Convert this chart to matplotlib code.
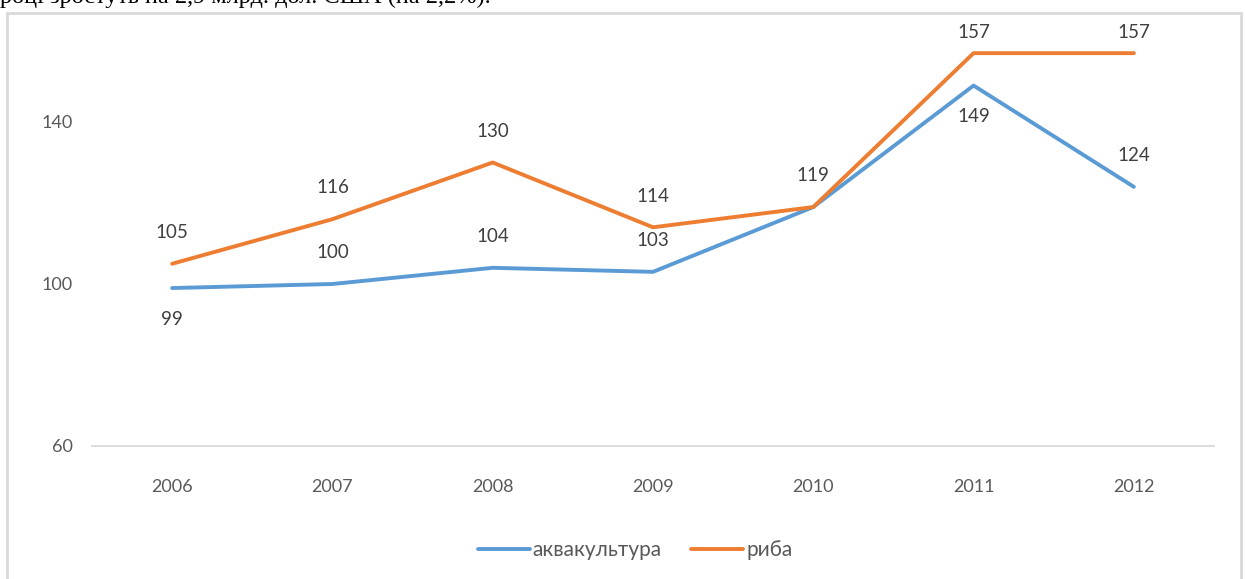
import matplotlib

matplotlib.use("agg")
import matplotlib.pyplot as plt
from matplotlib.patches import Rectangle

years = ["2006", "2007", "2008", "2009", "2010", "2011", "2012"]
aqua = [99, 100, 104, 103, 119, 149, 124]
fish = [105, 116, 130, 114, 119, 157, 157]
# where the aquaculture labels sit: -1 below the point, 1 above
aqua_side = [-1, 1, 1, 1, 1, -1, 1]

BLUE = "#5B9BD5"
ORANGE = "#ED7D31"

plt.rcParams["font.family"] = ["Lato", "DejaVu Sans"]

fig = plt.figure(figsize=(12.45, 5.79), dpi=100)
ax = fig.add_axes([92 / 1245, 1 - 446 / 579, (1214 - 92) / 1245, (446 - 41) / 579])

x = list(range(len(years)))
ax.plot(x, aqua, color=BLUE, lw=2.8, label="аквакультура", solid_capstyle="round")
ax.plot(x, fish, color=ORANGE, lw=2.8, label="риба", solid_capstyle="round")

for i in x:
    off = 15 if fish[i] > 150 else 22.5
    ax.annotate(str(fish[i]), (i, fish[i]), xytext=(0, off), textcoords="offset points",
                ha="center", va="center", fontsize=13.5, color="#404040")
    if i == 4:
        continue
    ax.annotate(str(aqua[i]), (i, aqua[i]), xytext=(0, 22.5 * aqua_side[i]), textcoords="offset points",
                ha="center", va="center", fontsize=13.5, color="#404040")

ax.set_xlim(-0.5, len(years) - 0.5)
ax.set_ylim(60, 160)
ax.set_yticks([60, 100, 140])
ax.set_xticks(x)
ax.set_xticklabels(years)
ax.tick_params(axis="both", length=0, labelsize=13, colors="#595959")
ax.tick_params(axis="x", pad=24)
ax.tick_params(axis="y", pad=14)
for side in ["top", "right", "left"]:
    ax.spines[side].set_visible(False)
ax.spines["bottom"].set_color("#D9D9D9")
ax.spines["bottom"].set_linewidth(1.3)

fig.legend(loc="center", bbox_to_anchor=(635 / 1245, 1 - 550 / 579), ncol=2, frameon=False,
           fontsize=15, labelcolor="#595959", handlelength=2.5, columnspacing=1.4, handletextpad=0.15)

# chart frame
fig.patches.append(Rectangle((7 / 1245, -0.05), (1241 - 7) / 1245, 1.05 - 13 / 579,
                             transform=fig.transFigure, fill=False, edgecolor="#D9D9D9", lw=2))

# cut-off document text above the chart
fig.text(0, 1 - 2.5 / 579, "році зростуть на 2,9 млрд. дол. США (на 2,2%).", family="Liberation Serif",
         fontsize=17.5, color="black", ha="left", va="baseline")

fig.savefig("out.png", dpi=100)
